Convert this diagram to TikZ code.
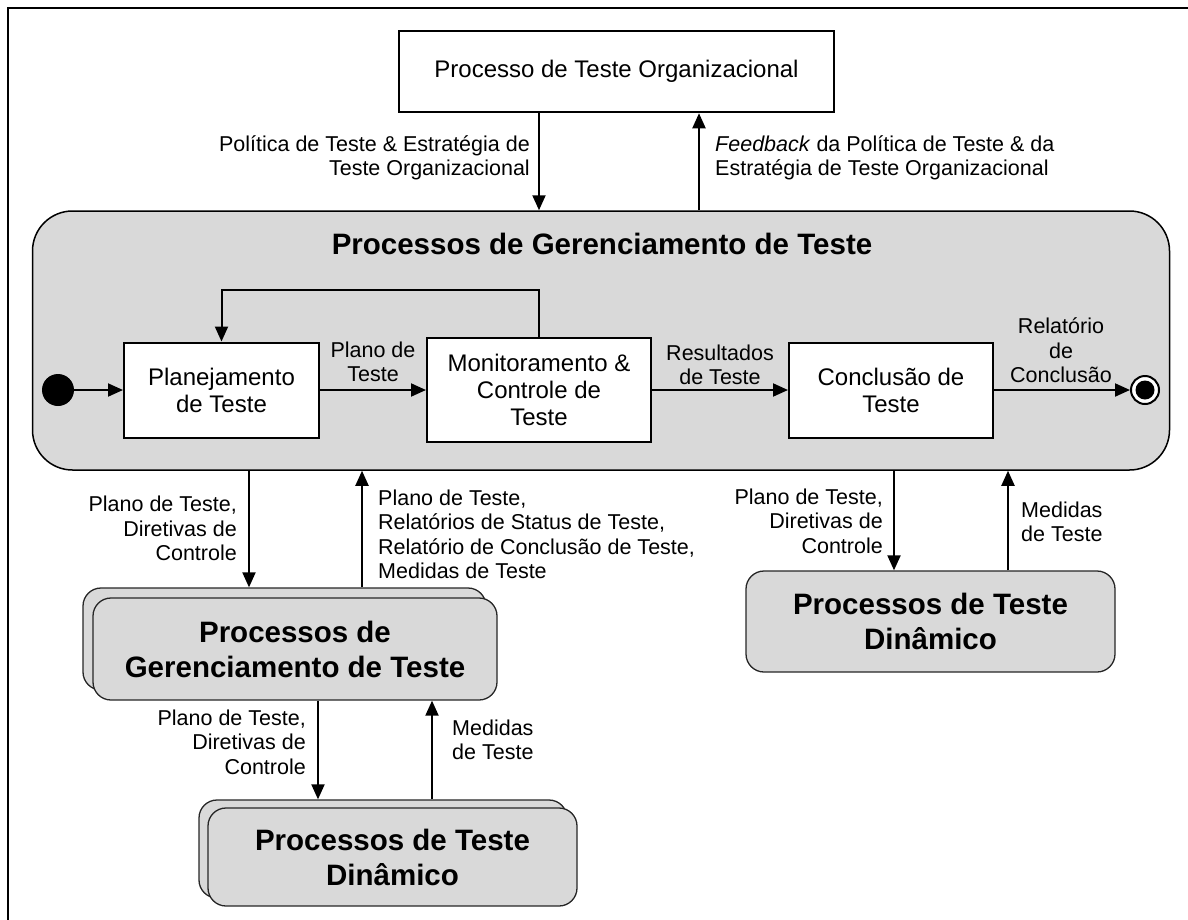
\documentclass[tikz,border=0pt]{standalone}
\usepackage{fontspec}
\setmainfont{Liberation Sans}
\usetikzlibrary{arrows.meta}
\definecolor{boxgray}{RGB}{217,217,217}
\begin{document}
\begin{tikzpicture}[x=1pt,y=-1pt,
  lbl/.style={font=\fontsize{21.5}{24.5}\selectfont, inner sep=0pt},
  boxtxt/.style={font=\fontsize{24}{27}\selectfont},
  bigtxt/.style={font=\fontsize{29.5}{35}\selectfont\bfseries},
  statebox/.style={draw, line width=2pt, fill=white, boxtxt, align=center, inner sep=0pt},
  procbox/.style={draw=black!85, line width=1.3pt, fill=boxgray, rounded corners=18pt, bigtxt, align=center, inner sep=0pt},
  arr/.style={line width=2pt, -{Triangle[length=15pt,width=13pt]}},
]
\useasboundingbox (0,0) rectangle (1188,919);
\draw[line width=2.5pt] (8,925) -- (8,8) -- (1195,8);

% top organisational process
\node[draw, line width=2.5pt, fill=white, minimum width=435pt, minimum height=81pt, boxtxt, inner sep=0pt] (org) at (616.5,71.5) {Processo de Teste Organizacional};

% big management box
\node[draw, line width=1.5pt, fill=boxgray, rounded corners=40pt, minimum width=1137pt, minimum height=259pt] (gm) at (601,340.5) {};
\node[bigtxt] (gmtitle) at (602,244) {Processos de Gerenciamento de Teste};

\node[statebox, minimum width=195pt, minimum height=95pt] (plan) at (221.5,390) {Planejamento\\de Teste};
\node[statebox, minimum width=224pt, minimum height=104pt] (mon) at (539,390) {Monitoramento \&\\Controle de\\Teste};
\node[statebox, minimum width=204pt, minimum height=95pt] (concl) at (891,390) {Conclusão de\\Teste};
\node[circle, fill=black, minimum size=32pt, inner sep=0pt] (start) at (58,390) {};
\node[circle, draw, line width=2pt, fill=white, minimum size=28pt, inner sep=0pt] (end) at (1145,390) {};
\node[circle, fill=black, minimum size=19pt, inner sep=0pt] (endcore) at (end.center) {};

\draw[arr] (start) -- (plan);
\draw[arr] (plan) -- (mon);
\draw[arr] (mon) -- (concl);
\draw[arr] (concl) -- (end);
\draw[arr] (mon.north) -- ++(0,-47) -| (plan.north);

\node[lbl, align=center] (lplan) at (373,362) {Plano de\\Teste};
\node[lbl, align=center] (lres) at (720,365) {Resultados\\de Teste};
\node[lbl, align=center] (lrel) at (1061,350.5) {Relatório\\de\\Conclusão};

% top connectors
\coordinate (xa) at (539,0);
\coordinate (xb) at (699,0);
\draw[arr] (xa |- org.south) -- (xa |- gm.north);
\draw[arr] (xb |- gm.north) -- (xb |- org.south);
\node[lbl, align=right, anchor=east] (l7) at (530,158) {Política de Teste \& Estratégia de\\Teste Organizacional};
\node[lbl, align=left, anchor=west] (l8) at (715,158) {\textit{Feedback} da Política de Teste \& da\\Estratégia de Teste Organizacional};

% lower process boxes
\node[procbox, minimum width=403pt, minimum height=102pt] (gmAb) at (284.5,639) {};
\node[procbox, minimum width=404pt, minimum height=102pt] (gmA) at (295,649) {Processos de\\Gerenciamento de Teste};
\node[procbox, minimum width=369pt, minimum height=101pt] (dynR) at (930.5,621.5) {Processos de Teste\\Dinâmico};
\node[procbox, minimum width=368pt, minimum height=98pt] (dynBb) at (383,849) {};
\node[procbox, minimum width=369pt, minimum height=98pt] (dynB) at (392.5,857) {Processos de Teste\\Dinâmico};

\coordinate (c1) at (249,0);
\coordinate (c2) at (362,0);
\coordinate (c3) at (894,0);
\coordinate (c4) at (1008,0);
\coordinate (c5) at (318,0);
\coordinate (c6) at (432,0);
\draw[arr] (c1 |- gm.south) -- (c1 |- gmAb.north);
\draw[arr] (c2 |- gmAb.north) -- (c2 |- gm.south);
\draw[arr] (c3 |- gm.south) -- (c3 |- dynR.north);
\draw[arr] (c4 |- dynR.north) -- (c4 |- gm.south);
\draw[arr] (c5 |- gmA.south) -- (c5 |- dynBb.north);
\draw[arr] (c6 |- dynBb.north) -- (c6 |- gmA.south);

\node[lbl, align=right, anchor=east] (l1) at (237,528.5) {Plano de Teste,\\Diretivas de\\Controle};
\node[lbl, align=left, anchor=west] (l2) at (378,534.5) {Plano de Teste,\\Relatórios de Status de Teste,\\Relatório de Conclusão de Teste,\\Medidas de Teste};
\node[lbl, align=right, anchor=east] (l3) at (883,521) {Plano de Teste,\\Diretivas de\\Controle};
\node[lbl, align=left, anchor=west] (l4) at (1021,522) {Medidas\\de Teste};
\node[lbl, align=right, anchor=east] (l5) at (306,742) {Plano de Teste,\\Diretivas de\\Controle};
\node[lbl, align=left, anchor=west] (l6) at (452,740) {Medidas\\de Teste};
\end{tikzpicture}
\end{document}
